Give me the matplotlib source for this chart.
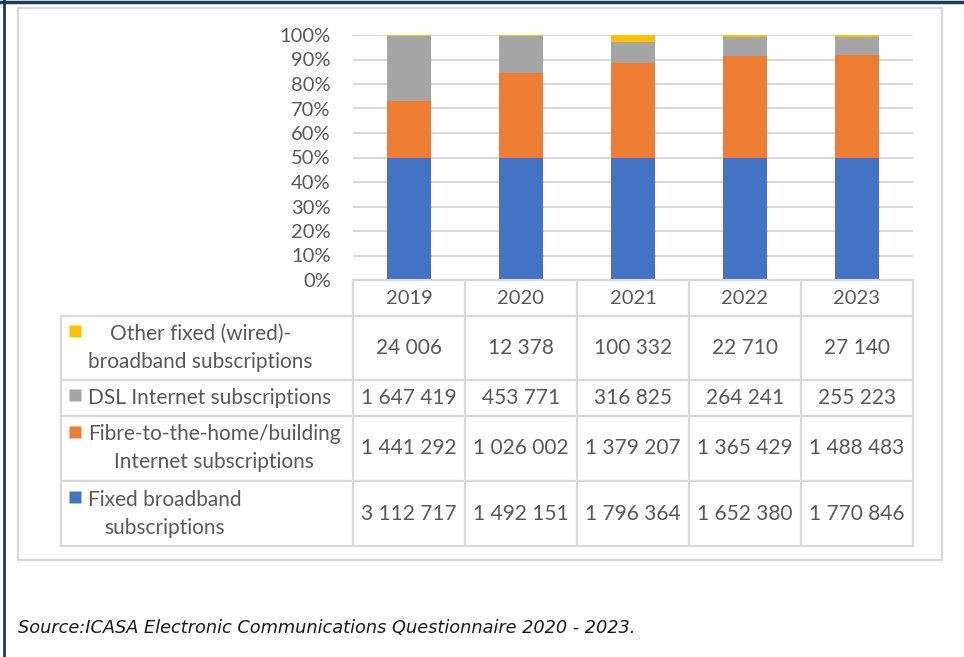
import matplotlib
matplotlib.use("Agg")
import matplotlib.pyplot as plt
from matplotlib.patches import Rectangle
from matplotlib.lines import Line2D
import numpy as np

plt.rcParams['font.family'] = ['Lato', 'DejaVu Sans']

years = ["2019", "2020", "2021", "2022", "2023"]
fixed_broadband = [3112717, 1492151, 1796364, 1652380, 1770846]
fibre = [1441292, 1026002, 1379207, 1365429, 1488483]
dsl = [1647419, 453771, 316825, 264241, 255223]
other_fixed = [24006, 12378, 100332, 22710, 27140]

series_labels = [
    "Fixed broadband\nsubscriptions",
    "Fibre-to-the-home/building\nInternet subscriptions",
    "DSL Internet subscriptions",
    "Other fixed (wired)-\nbroadband subscriptions",
]
series_values = [fixed_broadband, fibre, dsl, other_fixed]
colors = ["#4472C4", "#ED7D31", "#A5A5A5", "#FFC000"]

TEXT = "#595959"
GRID = "#D9D9D9"

W, H = 964, 657
fig = plt.figure(figsize=(W / 100, H / 100), dpi=100)


def fx(px):
    return px / W


def fy(py):
    return 1 - py / H


# page frames
fig.add_artist(Rectangle((fx(18), fy(560)), fx(942) - fx(18), fy(8) - fy(560),
                         transform=fig.transFigure, fill=False,
                         edgecolor=GRID, lw=1.6))
fig.add_artist(Line2D([0, 1], [fy(2), fy(2)], transform=fig.transFigure,
                      color="#1F3A5C", lw=2.5))
fig.add_artist(Line2D([fx(3.5), fx(3.5)], [0, 1], transform=fig.transFigure,
                      color="#1F3A5C", lw=2.0))

# 100% stacked bars
ax = fig.add_axes([fx(353), fy(280), fx(913) - fx(353), fy(35) - fy(280)])
x = np.arange(len(years))
vals = np.array(series_values, dtype=float)
shares = vals / vals.sum(axis=0)
bottom = np.zeros(len(years))
for share, c in zip(shares, colors):
    ax.bar(x, share, 0.4, bottom=bottom, color=c, zorder=3)
    bottom += share

ax.set_xlim(-0.5, len(years) - 0.5)
ax.set_ylim(0, 1)
ax.set_yticks(np.linspace(0, 1, 11))
ax.set_yticklabels([f"{int(round(v * 100))}%" for v in np.linspace(0, 1, 11)],
                   fontsize=14.5, color=TEXT)
ax.yaxis.grid(True, color=GRID, lw=1.4, zorder=0)
ax.tick_params(left=False, bottom=False, labelbottom=False, pad=12.5)
for s in ax.spines.values():
    s.set_visible(False)

# data table below the bars
label_units = (353 - 61) / 112
row_h = [36, 64, 36, 65, 65]
edges = np.concatenate([[0], np.cumsum(row_h)])
tax = fig.add_axes([fx(61), fy(546), fx(913) - fx(61), fy(280) - fy(546)])
tax.set_xlim(-0.5 - label_units, len(years) - 0.5)
tax.set_ylim(edges[-1], 0)
tax.axis("off")
left = -0.5 - label_units
right = len(years) - 0.5
lkw = dict(color=GRID, lw=1.6, solid_capstyle="projecting", clip_on=False)
tax.plot([-0.5, right], [0, 0], **lkw)
for e in edges[1:]:
    tax.plot([left, right], [e, e], **lkw)
tax.plot([left, left], [edges[1], edges[-1]], **lkw)
for xv in np.arange(-0.5, right + 0.01, 1):
    tax.plot([xv, xv], [0, edges[-1]], **lkw)

for i, yr in enumerate(years):
    tax.text(i, row_h[0] / 2, yr, ha="center", va="center",
             fontsize=14.5, color=TEXT)

row_order = [3, 2, 1, 0]
for r, si in enumerate(row_order):
    y0, y1 = edges[r + 1], edges[r + 2]
    yc = (y0 + y1) / 2
    lbl = series_labels[si]
    nlines = lbl.count("\n") + 1
    tax.text(left + (88 - 61) / 112, yc, lbl, ha="left", va="center",
             multialignment="center", fontsize=15, color=TEXT,
             linespacing=1.5)
    my = yc - (14 if nlines == 2 else 0) - 3
    tax.plot(left + (75 - 61) / 112, my, marker="s", ms=8.5,
             color=colors[si], mec="none", clip_on=False)
    for i, v in enumerate(series_values[si]):
        tax.text(i, yc, f"{v:,}".replace(",", " "), ha="center", va="center",
                 fontsize=15, color=TEXT)

fig.text(fx(18), fy(628), "Source:ICASA Electronic Communications Questionnaire 2020 - 2023.",
         ha="left", va="center", fontsize=12.8, style="italic",
         family="DejaVu Sans", color="#1A1A1A")

fig.savefig("out.png", dpi=100)
